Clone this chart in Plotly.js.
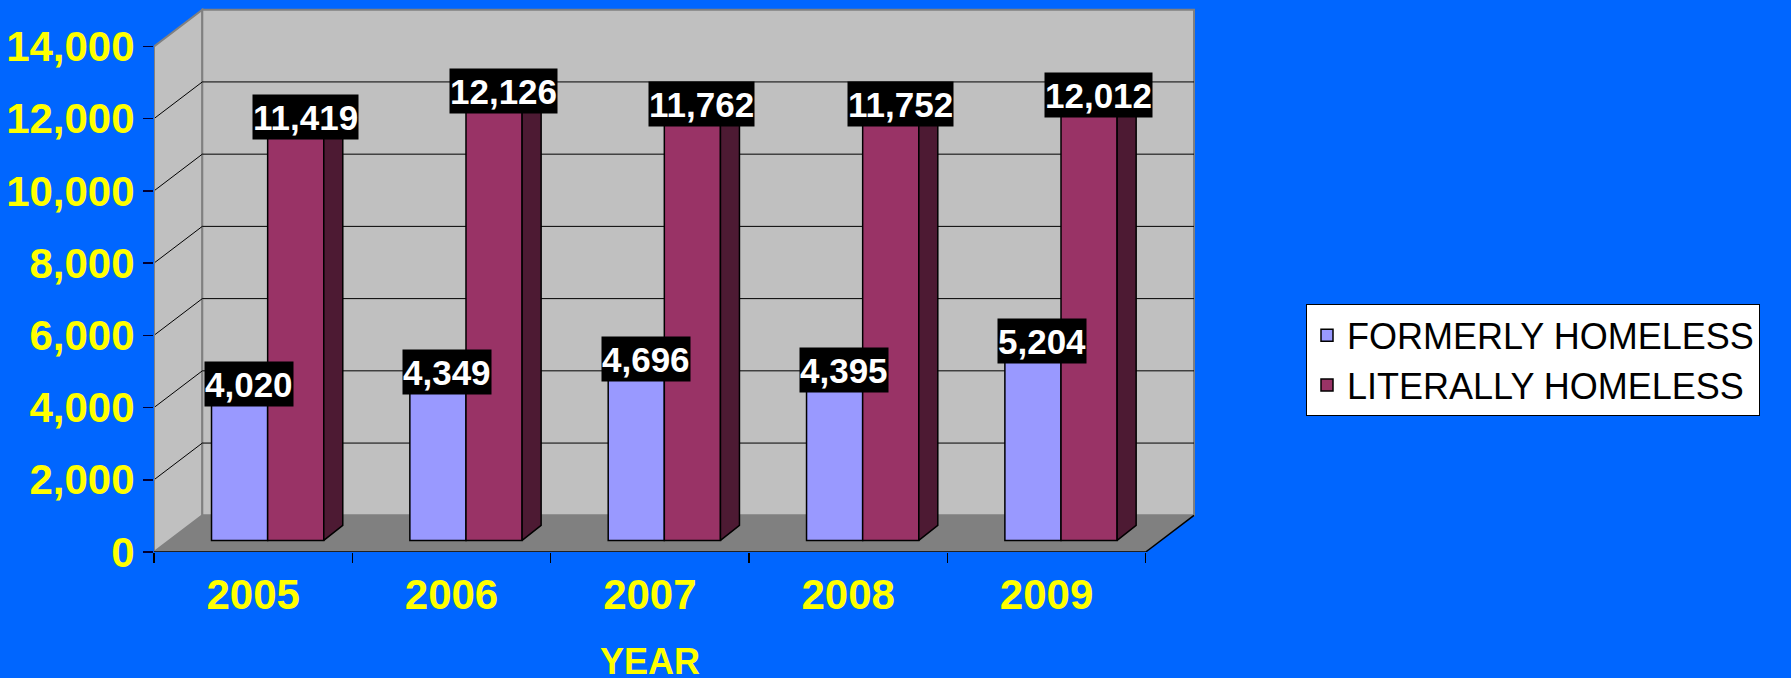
<!DOCTYPE html>
<html>
<head>
<meta charset="utf-8">
<script src="https://cdn.plot.ly/plotly-3.0.1.min.js"></script>
<style>
  html, body { margin: 0; padding: 0; background: #0066ff; }
  #chart { width: 1791px; height: 678px; }
</style>
</head>
<body>
<div id="chart"></div>
<script>
// ---------------- data ----------------
const years = ['2005', '2006', '2007', '2008', '2009'];
const formerlyHomeless = [4020, 4349, 4696, 4395, 5204];
const literallyHomeless = [11419, 12126, 11762, 11752, 12012];
const seriesNames = ['FORMERLY HOMELESS', 'LITERALLY HOMELESS'];
const yTickVals = [0, 2000, 4000, 6000, 8000, 10000, 12000, 14000];
const yTickLabels = ['0', '2,000', '4,000', '6,000', '8,000', '10,000', '12,000', '14,000'];
const xAxisTitle = 'YEAR';

// ---------------- pseudo-3D geometry (styling) ----------------
const PX_PER_CAT = 198.34;      // pixels per category
const PX_PER_UNIT = 0.036114;   // pixels per value unit
const DEPTH_X = 48.3 / PX_PER_CAT;    // floor depth offset (x units)
const DEPTH_Y = 36.7 / PX_PER_UNIT;   // floor depth offset (y units)
const BAR_W = 0.283;
const BAR_SHIFT = 0.073;              // bars sit part-way back in depth
const BAR_BASE = 11.6 / PX_PER_UNIT;
const BAR_DX = 19 / PX_PER_CAT;       // bar depth
const BAR_DY = 15 / PX_PER_UNIT;

const MARGIN = { l: 154, r: 594, t: 4, b: 126 };
const PLOT_W = 1791 - MARGIN.l - MARGIN.r;
const PLOT_H = 678 - MARGIN.t - MARGIN.b;

const X0 = -0.5;
const X1 = years.length - 0.5;
const YMAX = yTickVals[yTickVals.length - 1];
const xRange = [X0, X0 + PLOT_W / PX_PER_CAT];
const yRange = [0, PLOT_H / PX_PER_UNIT];

const idx = years.map((_, i) => i);

// ---------------- bar traces ----------------
const FORMER_COLOR = '#9999ff';
const LIT_COLOR = '#993366';
const LIT_SIDE = '#4d1a33';
const LIT_TOP = '#b34d80';
const FORMER_TOP = '#7a7acc';

const barFormer = {
  type: 'bar', name: seriesNames[0],
  x: idx.map(i => i + BAR_SHIFT), y: formerlyHomeless,
  base: BAR_BASE, width: BAR_W, offset: -BAR_W,
  marker: { color: FORMER_COLOR, line: { color: '#000000', width: 1.5 } },
  hoverinfo: 'skip'
};
const barLit = {
  type: 'bar', name: seriesNames[1],
  x: idx.map(i => i + BAR_SHIFT), y: literallyHomeless,
  base: BAR_BASE, width: BAR_W, offset: 0,
  marker: { color: LIT_COLOR, line: { color: '#000000', width: 1.5 } },
  hoverinfo: 'skip'
};

// side & top faces computed from the data
function polyTrace(color, builder) {
  const xs = [], ys = [];
  idx.forEach(i => {
    const pts = builder(i);
    pts.forEach(p => { xs.push(p[0]); ys.push(p[1]); });
    xs.push(pts[0][0]); ys.push(pts[0][1]);
    xs.push(null); ys.push(null);
  });
  return {
    type: 'scatter', mode: 'lines', x: xs, y: ys, fill: 'toself',
    fillcolor: color, line: { color: '#000000', width: 1.5 },
    showlegend: false, hoverinfo: 'skip'
  };
}
const litSide = polyTrace(LIT_SIDE, i => {
  const R = i + BAR_SHIFT + BAR_W, B = BAR_BASE, T = BAR_BASE + literallyHomeless[i];
  return [[R, B], [R + BAR_DX, B + BAR_DY], [R + BAR_DX, T + BAR_DY], [R, T]];
});
const litTop = polyTrace(LIT_TOP, i => {
  const L = i + BAR_SHIFT, R = L + BAR_W, T = BAR_BASE + literallyHomeless[i];
  return [[L, T], [L + BAR_DX, T + BAR_DY], [R + BAR_DX, T + BAR_DY], [R, T]];
});
const formerTop = polyTrace(FORMER_TOP, i => {
  const R = i + BAR_SHIFT, L = R - BAR_W, T = BAR_BASE + formerlyHomeless[i];
  return [[L, T], [L + BAR_DX, T + BAR_DY], [R, T + BAR_DY], [R, T]];
});

// ---------------- walls, floor, grid (shapes) ----------------
const shapes = [];
// floor
shapes.push({
  type: 'path', xref: 'x', yref: 'y', layer: 'below',
  path: `M ${X0},0 L ${X1},0 L ${X1 + DEPTH_X},${DEPTH_Y} L ${X0 + DEPTH_X},${DEPTH_Y} Z`,
  fillcolor: '#808080', line: { color: '#808080', width: 1 }
});
// left side wall
shapes.push({
  type: 'path', xref: 'x', yref: 'y', layer: 'below',
  path: `M ${X0},0 L ${X0 + DEPTH_X},${DEPTH_Y} L ${X0 + DEPTH_X},${YMAX + DEPTH_Y} L ${X0},${YMAX} Z`,
  fillcolor: '#c0c0c0', line: { color: '#808080', width: 2 }
});
// back wall
shapes.push({
  type: 'rect', xref: 'x', yref: 'y', layer: 'below',
  x0: X0 + DEPTH_X, x1: X1 + DEPTH_X, y0: DEPTH_Y, y1: YMAX + DEPTH_Y,
  fillcolor: '#c0c0c0', line: { color: '#808080', width: 2 }
});
// gridlines
yTickVals.slice(1, -1).forEach(v => {
  shapes.push({
    type: 'line', xref: 'x', yref: 'y', layer: 'below',
    x0: X0 + DEPTH_X, x1: X1 + DEPTH_X, y0: v + DEPTH_Y, y1: v + DEPTH_Y,
    line: { color: '#000000', width: 1 }
  });
  shapes.push({
    type: 'line', xref: 'x', yref: 'y', layer: 'below',
    x0: X0, x1: X0 + DEPTH_X, y0: v, y1: v + DEPTH_Y,
    line: { color: '#000000', width: 1 }
  });
});
// front axis lines
shapes.push({
  type: 'line', xref: 'x', yref: 'y', layer: 'below',
  x0: X0, x1: X0, y0: 0, y1: YMAX, line: { color: '#808080', width: 2 }
});
shapes.push({
  type: 'line', xref: 'x', yref: 'y', layer: 'below',
  x0: X0, x1: X1, y0: 0, y1: 0, line: { color: '#000000', width: 1.5 }
});
shapes.push({
  type: 'line', xref: 'x', yref: 'y', layer: 'below',
  x0: X1, x1: X1 + DEPTH_X, y0: 0, y1: DEPTH_Y, line: { color: '#000000', width: 1.5 }
});

// ---------------- data labels ----------------
const annotations = [];
function addLabels(values, centerOffset) {
  values.forEach((v, i) => {
    annotations.push({
      xref: 'x', yref: 'y',
      x: i + BAR_SHIFT + centerOffset + BAR_DX / 2,
      y: BAR_BASE + v + BAR_DY / 2,
      yshift: 4,
      text: v.toLocaleString('en-US'),
      showarrow: false,
      height: 44,
      font: { family: 'Liberation Sans, Arial, sans-serif', size: 35, color: '#ffffff', weight: 'bold' },
      bgcolor: '#000000', borderpad: 0
    });
  });
}
addLabels(formerlyHomeless, -BAR_W / 2);
addLabels(literallyHomeless, BAR_W / 2);

annotations.push({
  xref: 'x', yref: 'paper', x: (years.length - 1) / 2, y: 0, yanchor: 'top', yshift: -87,
  text: '<b>' + xAxisTitle + '</b>', showarrow: false,
  font: { family: 'Liberation Sans, Arial, sans-serif', size: 36, color: '#ffff00' }
});

const layout = {
  width: 1791, height: 678, autosize: false,
  margin: MARGIN,
  paper_bgcolor: '#0066ff', plot_bgcolor: 'rgba(0,0,0,0)',
  showlegend: true,
  legend: {
    x: (1306 - MARGIN.l) / PLOT_W, xanchor: 'left',
    y: (678 - MARGIN.b - 304.3) / PLOT_H, yanchor: 'top',
    bgcolor: '#ffffff', bordercolor: '#000000', borderwidth: 1,
    font: { family: 'Liberation Sans, Arial, sans-serif', size: 36, color: '#000000' },
    traceorder: 'normal'
  },
  xaxis: {
    range: xRange, showgrid: false, zeroline: false, showline: false,
    tickmode: 'array', tickvals: idx, ticktext: years, ticks: '',
    tickfont: { family: 'Liberation Sans, Arial, sans-serif', size: 42, color: '#ffff00', weight: 'bold' },
    ticklabelstandoff: 14,
    minor: {
      tickmode: 'array', tickvals: [X0].concat(idx.map(i => i + 0.5)),
      ticks: 'outside', ticklen: 10, tickcolor: '#000000', tickwidth: 1.5, showgrid: false
    },
    fixedrange: true
  },
  yaxis: {
    range: yRange, showgrid: false, zeroline: false, showline: false,
    tickmode: 'array', tickvals: yTickVals, ticktext: yTickLabels,
    ticks: 'outside', ticklen: 10, tickcolor: '#000033', tickwidth: 1.5,
    tickfont: { family: 'Liberation Sans, Arial, sans-serif', size: 42, color: '#ffff00', weight: 'bold' },
    fixedrange: true
  },
  barmode: 'overlay',
  shapes: shapes,
  annotations: annotations
};

Plotly.newPlot('chart', [barFormer, barLit, formerTop, litTop, litSide], layout, { displayModeBar: false, staticPlot: true });
</script>
</body>
</html>
